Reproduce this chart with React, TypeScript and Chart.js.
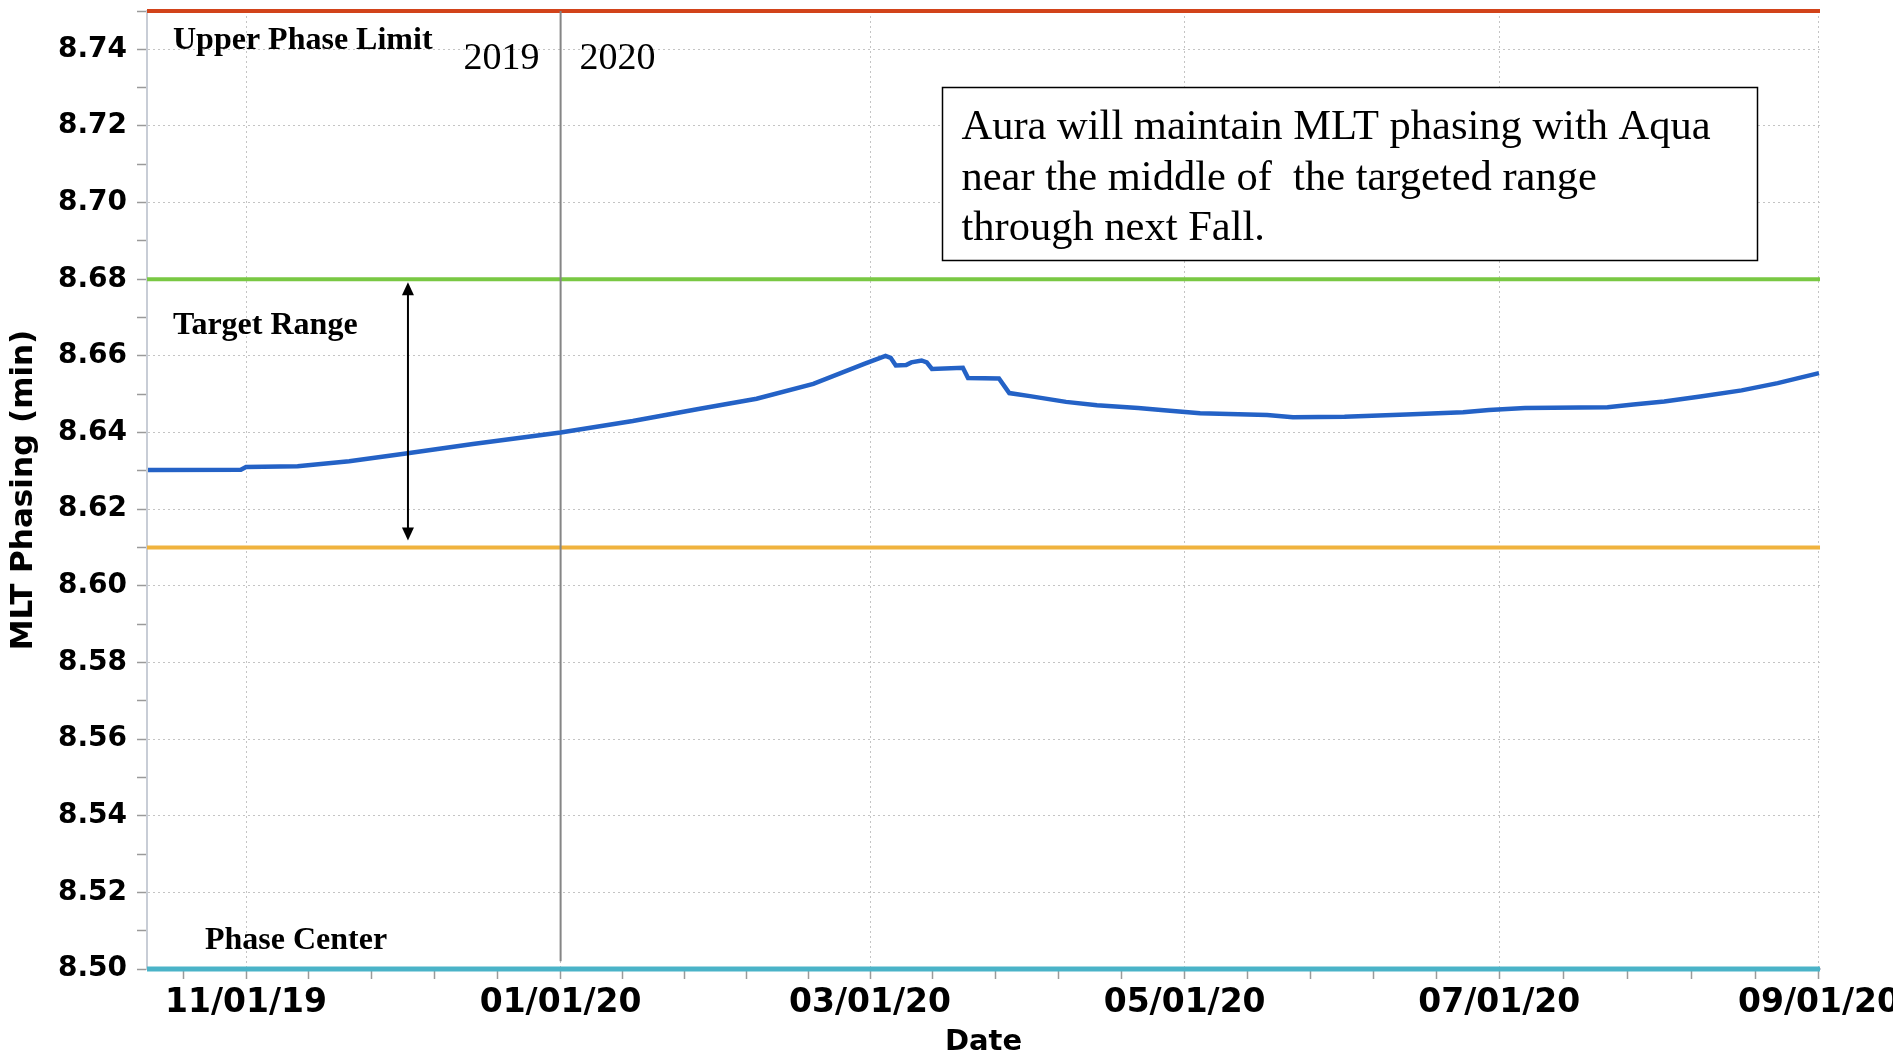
import React, { useEffect, useRef } from 'react';
import { Chart, registerables } from 'chart.js';

Chart.register(...registerables);

const DAY_MS = 86400000;
const dayNum = (s: string): number =>
  Date.UTC(+s.slice(0, 4), +s.slice(5, 7) - 1, +s.slice(8, 10)) / DAY_MS;

// ---- Data: Aura MLT phasing (min) ----
const phaseDates: string[] = [
  '2019-10-13', '2019-10-31', '2019-11-01', '2019-11-11', '2019-11-21', '2019-12-02',
  '2019-12-15', '2020-01-01', '2020-01-15', '2020-01-28', '2020-02-08', '2020-02-19',
  '2020-02-29', '2020-03-04', '2020-03-05', '2020-03-06', '2020-03-08', '2020-03-09',
  '2020-03-11', '2020-03-12', '2020-03-13', '2020-03-19', '2020-03-20', '2020-03-26',
  '2020-03-28', '2020-04-01', '2020-04-08', '2020-04-14', '2020-04-22', '2020-04-27',
  '2020-05-04', '2020-05-17', '2020-05-22', '2020-06-01', '2020-06-13', '2020-06-24',
  '2020-06-29', '2020-07-06', '2020-07-22', '2020-07-27', '2020-08-02', '2020-08-09',
  '2020-08-17', '2020-08-24', '2020-09-01',
];
const phaseValues: number[] = [
  8.6302, 8.6303, 8.6310, 8.6312, 8.6325, 8.6345,
  8.6370, 8.6400, 8.6430, 8.6462, 8.6488, 8.6527,
  8.6580, 8.6600, 8.6595, 8.6575, 8.6576, 8.6583,
  8.6588, 8.6583, 8.6566, 8.6569, 8.6542, 8.6541,
  8.6503, 8.6495, 8.6480, 8.6471, 8.6464, 8.6458,
  8.6450, 8.6446, 8.6440, 8.6441, 8.6447, 8.6453,
  8.6459, 8.6464, 8.6466, 8.6473, 8.6481, 8.6494,
  8.6510, 8.6529, 8.6555,
];

// ---- Axis ----
const majorTickDates: string[] = ['2019-11-01', '2020-01-01', '2020-03-01', '2020-05-01', '2020-07-01', '2020-09-01'];
const majorTickLabels: string[] = ['11/01/19', '01/01/20', '03/01/20', '05/01/20', '07/01/20', '09/01/20'];
const X_START = '2019-10-13';
const X_END = '2020-09-01';
const Y_MIN = 8.5;
const Y_MAX = 8.75;
const Y_STEP = 0.01;

// ---- Reference levels ----
const UPPER_PHASE_LIMIT = 8.75;
const TARGET_HIGH = 8.68;
const TARGET_LOW = 8.61;
const PHASE_CENTER = 8.5;
const YEAR_BOUNDARY = '2020-01-01';
const YEAR_LINE_BOTTOM = 8.502;
const ARROW_DATE = '2019-12-02';

const BOX_LINES: string[] = [
  'Aura will maintain MLT phasing with Aqua',
  'near the middle of  the targeted range',
  'through next Fall.',
];

const xMin = dayNum(X_START) - 0.2;
const xMax = dayNum(X_END) + 0.2;
const majorVals = majorTickDates.map(dayNum);

function buildXTicks(): number[] {
  const out: number[] = [];
  out.push(majorVals[0] - (majorVals[1] - majorVals[0]) / 5);
  for (let i = 0; i < majorVals.length; i++) {
    out.push(majorVals[i]);
    if (i < majorVals.length - 1) {
      const step = (majorVals[i + 1] - majorVals[i]) / 5;
      for (let k = 1; k < 5; k++) out.push(majorVals[i] + k * step);
    }
  }
  return out;
}

const isMajorX = (v: number) => majorVals.some((m) => Math.abs(m - v) < 1e-6);
const isMajorY = (v: number) => Math.round(v * 100) % 2 === 0;

const SERIF = '"Liberation Serif", "Times New Roman", serif';
const SANS = '"DejaVu Sans", Verdana, sans-serif';

const annotationPlugin = {
  id: 'annotations',
  afterDatasetsDraw(chart: any) {
    const { ctx, scales } = chart;
    const xs = scales.x;
    const ys = scales.y;
    ctx.save();

    // double arrow for target range
    const ax = xs.getPixelForValue(dayNum(ARROW_DATE) + 0.4);
    const ayTop = ys.getPixelForValue(TARGET_HIGH) + 3;
    const ayBot = ys.getPixelForValue(TARGET_LOW) - 7;
    ctx.strokeStyle = '#000';
    ctx.fillStyle = '#000';
    ctx.lineWidth = 2;
    ctx.beginPath();
    ctx.moveTo(ax, ayTop + 6);
    ctx.lineTo(ax, ayBot - 6);
    ctx.stroke();
    const hw = 6;
    const hh = 13;
    ctx.beginPath();
    ctx.moveTo(ax, ayTop);
    ctx.lineTo(ax - hw, ayTop + hh);
    ctx.lineTo(ax + hw, ayTop + hh);
    ctx.closePath();
    ctx.fill();
    ctx.beginPath();
    ctx.moveTo(ax, ayBot);
    ctx.lineTo(ax - hw, ayBot - hh);
    ctx.lineTo(ax + hw, ayBot - hh);
    ctx.closePath();
    ctx.fill();

    // labels
    const left = chart.chartArea.left;
    ctx.fillStyle = '#000';
    ctx.textAlign = 'left';
    ctx.textBaseline = 'alphabetic';
    ctx.font = `bold 32px ${SERIF}`;
    ctx.fillText('Upper Phase Limit', left + 26, 49);
    ctx.fillText('Target Range', left + 26, 334);
    ctx.fillText('Phase Center', left + 58, 949);

    const yb = xs.getPixelForValue(dayNum(YEAR_BOUNDARY));
    ctx.font = `38px ${SERIF}`;
    ctx.textAlign = 'right';
    ctx.fillText('2019', yb - 21, 69);
    ctx.textAlign = 'left';
    ctx.fillText('2020', yb + 19, 69);

    // text box
    const bx = 942.5;
    const by = 87.5;
    const bw = 815;
    const bh = 173;
    ctx.fillStyle = '#fff';
    ctx.fillRect(bx, by, bw, bh);
    ctx.strokeStyle = '#000';
    ctx.lineWidth = 1.5;
    ctx.strokeRect(bx, by, bw, bh);
    ctx.fillStyle = '#000';
    ctx.font = `42.5px ${SERIF}`;
    ctx.textAlign = 'left';
    BOX_LINES.forEach((line, i) => {
      ctx.fillText(line, bx + 19, 139 + i * 50.7);
    });
    ctx.restore();
  },
};

export default function App() {
  const canvasRef = useRef<HTMLCanvasElement | null>(null);

  useEffect(() => {
    document.body.style.margin = '0';
    document.body.style.overflow = 'hidden';
    const canvas = canvasRef.current;
    if (!canvas) return;

    const hline = (y: number) => [
      { x: xMin, y },
      { x: xMax, y },
    ];

    const chart = new Chart(canvas, {
      type: 'line',
      data: {
        datasets: [
          {
            label: 'MLT Phasing',
            data: phaseDates.map((d, i) => ({ x: dayNum(d), y: phaseValues[i] })),
            borderColor: '#2462c6',
            borderWidth: 4.5,
            pointRadius: 0,
            tension: 0,
            clip: false,
          },
          {
            label: 'Year boundary',
            data: [
              { x: dayNum(YEAR_BOUNDARY), y: UPPER_PHASE_LIMIT },
              { x: dayNum(YEAR_BOUNDARY), y: YEAR_LINE_BOTTOM },
            ],
            borderColor: '#858585',
            borderWidth: 2,
            pointRadius: 0,
            clip: false,
          },
          {
            label: 'Upper Phase Limit',
            data: hline(UPPER_PHASE_LIMIT),
            borderColor: '#d2431a',
            borderWidth: 4,
            pointRadius: 0,
            clip: false,
          },
          {
            label: 'Target High',
            data: hline(TARGET_HIGH),
            borderColor: '#79c843',
            borderWidth: 4,
            pointRadius: 0,
            clip: false,
          },
          {
            label: 'Target Low',
            data: hline(TARGET_LOW),
            borderColor: '#f0b33e',
            borderWidth: 4,
            pointRadius: 0,
            clip: false,
          },
          {
            label: 'Phase Center',
            data: hline(PHASE_CENTER),
            borderColor: '#4ab3c8',
            borderWidth: 5,
            pointRadius: 0,
            clip: false,
          },
        ],
      },
      options: {
        animation: false,
        responsive: false,
        devicePixelRatio: 1,
        parsing: false as any,
        layout: { padding: { left: 2, right: 73, top: 11, bottom: 0 } },
        plugins: {
          legend: { display: false },
          tooltip: { enabled: false },
          title: { display: false },
        },
        scales: {
          x: {
            type: 'linear',
            min: xMin,
            max: xMax,
            afterBuildTicks: (scale: any) => {
              scale.ticks = buildXTicks().map((v) => ({ value: v }));
            },
            afterFit: (scale: any) => {
              scale.height = 91;
              scale.paddingLeft = 0;
              scale.paddingRight = 0;
            },
            ticks: {
              autoSkip: false,
              maxRotation: 0,
              minRotation: 0,
              padding: 5,
              color: '#000',
              font: { family: SANS, size: 33, weight: 'bold' },
              callback: (value: any) => {
                const idx = majorVals.findIndex((m) => Math.abs(m - Number(value)) < 1e-6);
                return idx >= 0 ? majorTickLabels[idx] : '';
              },
            },
            grid: {
              color: (c: any) => (c.tick && isMajorX(c.tick.value) ? '#c4c4c4' : 'rgba(0,0,0,0)'),
              lineWidth: 1,
              tickColor: '#9a9a9a',
              tickLength: 10,
              tickWidth: 1.5,
            },
            border: { display: true, color: '#c8cdd6', width: 2, dash: [2, 3] },
            title: {
              display: true,
              text: 'Date',
              color: '#000',
              font: { family: SANS, size: 29, weight: 'bold' },
              padding: { top: 0, bottom: 0 },
            },
          },
          y: {
            type: 'linear',
            min: Y_MIN,
            max: Y_MAX,
            afterBuildTicks: (scale: any) => {
              const t: { value: number }[] = [];
              const n = Math.round((Y_MAX - Y_MIN) / Y_STEP);
              for (let i = 0; i <= n; i++) t.push({ value: Math.round((Y_MIN + i * Y_STEP) * 100) / 100 });
              scale.ticks = t;
            },
            afterFit: (scale: any) => {
              scale.width = 145;
              scale.paddingTop = 0;
              scale.paddingBottom = 0;
            },
            ticks: {
              autoSkip: false,
              padding: 10,
              color: '#000',
              font: { family: SANS, size: 28, weight: 'bold' },
              callback: (value: any) => {
                const v = Number(value);
                return isMajorY(v) ? v.toFixed(2) : '';
              },
            },
            grid: {
              color: (c: any) => (c.tick && isMajorY(c.tick.value) ? '#c4c4c4' : 'rgba(0,0,0,0)'),
              lineWidth: 1,
              tickColor: '#9a9a9a',
              tickLength: 10,
              tickWidth: 1.5,
            },
            border: { display: true, color: '#c8cdd6', width: 2, dash: [2, 3] },
            title: {
              display: true,
              text: 'MLT Phasing (min)',
              color: '#000',
              font: { family: SANS, size: 31, weight: 'bold' },
              padding: { top: 3, bottom: 4 },
            },
          },
        },
      },
      plugins: [annotationPlugin],
    } as any);

    return () => chart.destroy();
  }, []);

  return (
    <div style={{ position: 'absolute', left: 0, top: 0, width: 1893, height: 1060, overflow: 'hidden', background: '#fff' }}>
      <canvas ref={canvasRef} width={1893} height={1060} style={{ width: 1893, height: 1060, display: 'block' }} />
    </div>
  );
}
